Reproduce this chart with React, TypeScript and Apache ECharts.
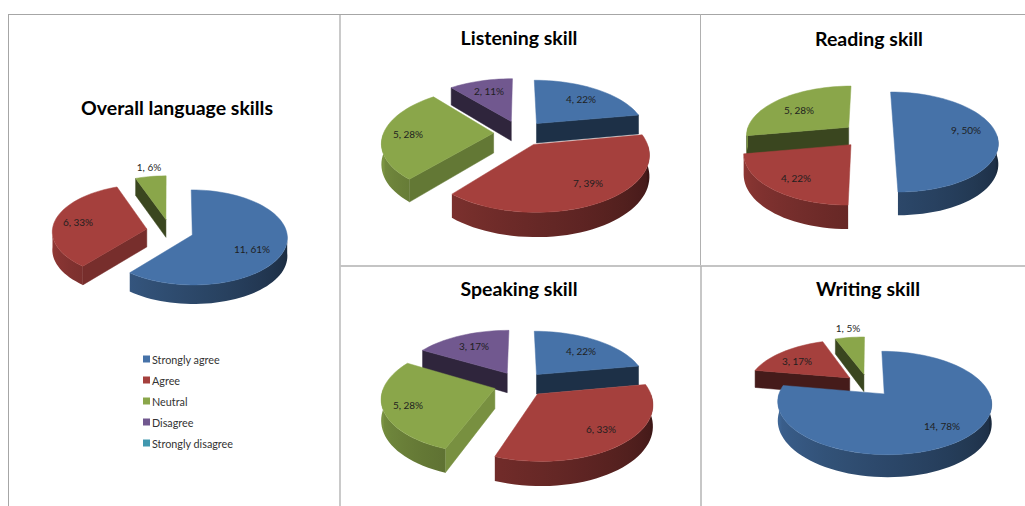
import React, { useEffect, useRef } from "react";
import * as echarts from "echarts";

const categories = ["Strongly agree", "Agree", "Neutral", "Disagree", "Strongly disagree"];
const categoryColors = ["#4672a8", "#a5403d", "#8aa64a", "#71588f", "#4198af"];

const overallValues = [11, 6, 1];
const overallPercents = [61, 33, 6];
const listeningValues = [4, 7, 5, 2];
const listeningPercents = [22, 39, 28, 11];
const readingValues = [9, 4, 5];
const readingPercents = [50, 22, 28];
const speakingValues = [4, 6, 5, 3];
const speakingPercents = [22, 33, 28, 17];
const writingValues = [14, 3, 1];
const writingPercents = [78, 17, 5];

// Geometry of each tilted pie: centre, radii, wall height, perspective strength, explosion.
const panels = [
  { title: "Overall language skills", values: overallValues, percents: overallPercents, cx: 170, cy: 231, rx: 94.5, ry: 47, depth: 18, k: 0.05, explode: 0.25, titleX: 177, titleY: 107,
    labels: [[252, 249], [78, 222], [149, 167]] },
  { title: "Listening skill", values: listeningValues, percents: listeningPercents, cx: 520, cy: 133, rx: 110, ry: 53, depth: 20, k: 0.16, explode: 0.24, titleX: 519, titleY: 37,
    labels: [[581, 99], [588, 183], [408, 134], [489, 91]] },
  { title: "Reading skill", values: readingValues, percents: readingPercents, cx: 868, cy: 135, rx: 103, ry: 49, depth: 20, k: 0.14, explode: 0.25, titleX: 869, titleY: 38,
    labels: [[966, 130], [796, 178], [799, 110]] },
  { title: "Speaking skill", values: speakingValues, percents: speakingPercents, cx: 520, cy: 384, rx: 110, ry: 53, depth: 20, k: 0.16, explode: 0.24, titleX: 519, titleY: 288,
    labels: [[581, 351], [601, 429], [408, 405], [474, 346]] },
  { title: "Writing skill", values: writingValues, percents: writingPercents, cx: 868, cy: 385, rx: 102, ry: 47, depth: 18, k: 0.17, explode: 0.24, titleX: 868, titleY: 288,
    labels: [[942, 426], [797, 361], [848, 328]] },
];

// Frame segments between the chart panels: x1, y1, x2, y2, colour, width.
const frameLines: [number, number, number, number, string, number][] = [
  [8, 14.5, 1025, 14.5, "#a6a6a6", 1],
  [8.5, 14, 8.5, 506, "#a6a6a6", 1],
  [340, 14, 340, 506, "#a6a6a6", 1.2],
  [700.5, 14, 700.5, 266, "#b0b0b0", 1],
  [340, 266, 1025, 266, "#c4c4c4", 2],
  [701, 266, 701, 506, "#b4b4b4", 1.5],
];

const FONT = "Lato";
const RAD = Math.PI / 180;

function shadeColor(hex: string, f: number) {
  const n = parseInt(hex.slice(1), 16);
  const c = [(n >> 16) & 255, (n >> 8) & 255, n & 255].map((v) => Math.round(v * f));
  return `rgb(${c[0]},${c[1]},${c[2]})`;
}

// Brightness of a flat radial wall, from the direction its face points in.
function wallShade(normalDeg: number) {
  const n = ((normalDeg % 360) + 360) % 360;
  return n >= 170 ? 0.42 : 0.42 + (170 - n) * 0.0075;
}

// Brightness along the curved rim: light on the left, dark on the right.
function rimShade(t: number) {
  return 0.35 + ((t - 90) / 180) * 0.55;
}

function arcAngles(a: number, b: number) {
  const steps = Math.max(2, Math.ceil((b - a) / 3));
  const out: number[] = [];
  for (let i = 0; i <= steps; i++) out.push(a + ((b - a) * i) / steps);
  return out;
}

function buildSlices(p: (typeof panels)[number]) {
  const total = p.values.reduce((s, v) => s + v, 0);
  let acc = 0;
  const slices = p.values.map((value, i) => {
    const start = (acc / total) * 360;
    acc += value;
    const end = (acc / total) * 360;
    return { value, category: i, start, end, mid: (start + end) / 2 };
  });
  // Far slices are painted first so that near ones overlap them.
  return slices.sort((a, b) => Math.cos(b.mid * RAD) - Math.cos(a.mid * RAD));
}

function panelSeries(p: (typeof panels)[number]) {
  const slices = buildSlices(p);
  const project = (t: number, radius: number, mid: number, lower: boolean) => {
    const X = radius * Math.sin(t * RAD) + p.explode * Math.sin(mid * RAD);
    const Y = -radius * Math.cos(t * RAD) - p.explode * Math.cos(mid * RAD);
    const w = 1 / (1 - p.k * Y);
    return [p.cx + p.rx * X * w, p.cy + p.ry * Y * w + (lower ? p.depth * w : 0)];
  };
  return {
    type: "custom",
    name: p.title,
    coordinateSystem: "none",
    silent: true,
    data: slices.map((s) => s.value),
    renderItem: (params: any) => {
      const s = slices[params.dataIndex];
      const base = categoryColors[s.category];
      const children: any[] = [];
      const wall = (t: number, normal: number) => {
        const fill = shadeColor(base, wallShade(normal));
        children.push({
          type: "polygon",
          shape: {
            points: [project(0, 0, s.mid, false), project(t, 1, s.mid, false), project(t, 1, s.mid, true), project(0, 0, s.mid, true)],
          },
          style: { fill, stroke: fill, lineWidth: 0.5 },
        });
      };
      if (s.start > 180 && s.start < 360) wall(s.start, s.start - 90);
      if (s.end > 0 && s.end < 180) wall(s.end, s.end + 90);

      const rimFrom = Math.max(s.start, 90);
      const rimTo = Math.min(s.end, 270);
      if (rimTo > rimFrom) {
        const angles = arcAngles(rimFrom, rimTo);
        const upper = angles.map((t) => project(t, 1, s.mid, false));
        const lower = angles.map((t) => project(t, 1, s.mid, true));
        const xs = upper.map((q) => q[0]);
        const minX = Math.min(...xs);
        const maxX = Math.max(...xs);
        const stops = angles
          .filter((_, i) => i % 4 === 0 || i === angles.length - 1)
          .map((t) => ({
            offset: (project(t, 1, s.mid, false)[0] - minX) / Math.max(1, maxX - minX),
            color: shadeColor(base, rimShade(t)),
          }))
          .sort((a, b) => a.offset - b.offset);
        children.push({
          type: "polygon",
          shape: { points: [...upper, ...lower.reverse()] },
          style: { fill: new echarts.graphic.LinearGradient(0, 0, 1, 0, stops) },
        });
      }

      const top = arcAngles(s.start, s.end).map((t) => project(t, 1, s.mid, false));
      children.push({
        type: "polygon",
        shape: { points: [project(0, 0, s.mid, false), ...top] },
        style: { fill: base, stroke: base, lineWidth: 0.5 },
      });
      return { type: "group", children };
    },
  };
}

export default function App() {
  const ref = useRef<HTMLDivElement>(null);
  useEffect(() => {
    const chart = echarts.init(ref.current!, null, { renderer: "svg" });
    const labelText = panels.flatMap((p) =>
      p.values.map((v, i) => ({
        type: "text",
        x: p.labels[i][0],
        y: p.labels[i][1],
        z: 100,
        silent: true,
        style: {
          text: `${v}, ${p.percents[i]}%`,
          fontFamily: FONT,
          fontSize: 10,
          fill: "#1f1f1f",
          textAlign: "center",
          textVerticalAlign: "middle",
        },
      }))
    );
    const frames = frameLines.map(([x1, y1, x2, y2, color, width]) => ({
      type: "line",
      z: 1,
      silent: true,
      shape: { x1, y1, x2, y2 },
      style: { stroke: color, lineWidth: width },
    }));
    chart.setOption({
      animation: false,
      backgroundColor: "#ffffff",
      title: panels.map((p) => ({
        text: p.title,
        left: p.titleX,
        top: p.titleY - 10,
        padding: 0,
        textAlign: "center",
        textStyle: { fontFamily: FONT, fontSize: 19.5, fontWeight: "bold", color: "#000000" },
      })),
      legend: {
        orient: "vertical",
        left: 143,
        top: 353,
        itemWidth: 7,
        itemHeight: 7,
        itemGap: 9,
        padding: 0,
        selectedMode: false,
        textStyle: { fontFamily: FONT, fontSize: 10.8, color: "#333333", padding: [0, 0, 0, -3], lineHeight: 12 },
        data: categories.map((name) => ({ name, icon: "rect" })),
      },
      graphic: { elements: [...frames, ...labelText] },
      series: [
        ...panels.map(panelSeries),
        // Empty series give the legend its five entries, including the unused ones.
        ...categories.map((name, i) => ({
          type: "custom",
          name,
          coordinateSystem: "none",
          itemStyle: { color: categoryColors[i] },
          data: [],
          renderItem: () => null,
        })),
      ],
    });
    return () => chart.dispose();
  }, []);
  return <div ref={ref} style={{ position: "fixed", left: 0, top: 0, width: 1025, height: 506 }} />;
}
